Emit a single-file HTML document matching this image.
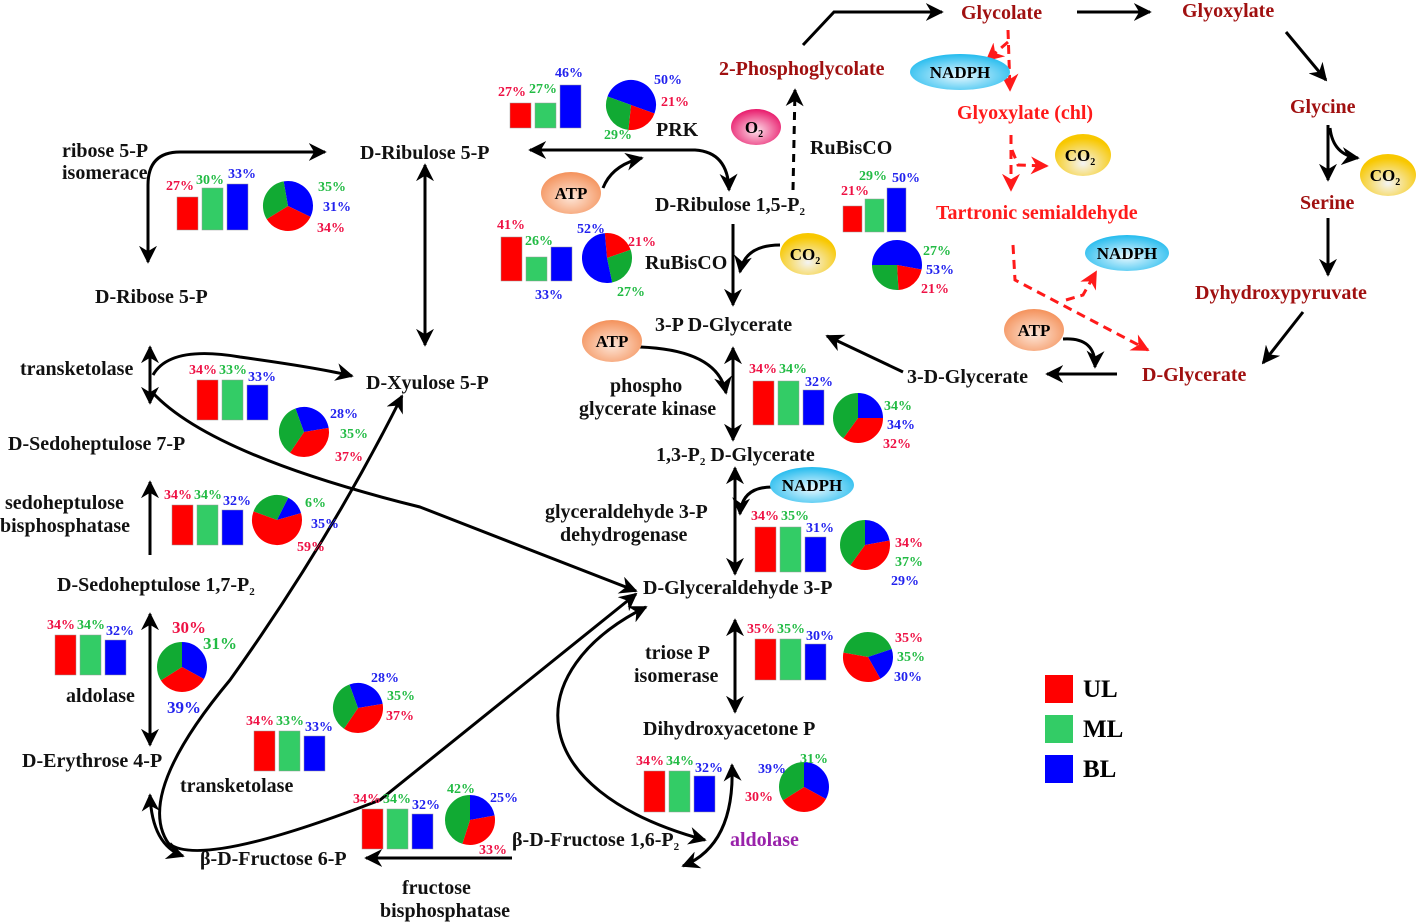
<!DOCTYPE html>
<html><head><meta charset="utf-8"><style>
html,body{margin:0;padding:0;background:#fff;}
svg{display:block;}
text{font-family:"Liberation Serif",serif;font-weight:bold;}
.t{font-size:20px;fill:#111;}
.dr{font-size:20px;fill:#a01010;}
.rd{font-size:20px;fill:#ff1a1a;}
.p{font-size:14px;}
.r{fill:#ee1144;} .g{fill:#22bb44;} .b{fill:#2222ee;}
.ln{fill:none;stroke:#000;stroke-width:3;}
.dl{fill:none;stroke:#ff1a1a;stroke-width:3;stroke-dasharray:9 6;}
</style></head><body>
<svg width="1417" height="923" viewBox="0 0 1417 923" xmlns="http://www.w3.org/2000/svg">
<defs>
<marker id="a" viewBox="0 0 10 10" refX="9" refY="5" markerWidth="6" markerHeight="6" orient="auto-start-reverse"><path d="M0,0 L10,5 L0,10 L3,5z" fill="#000"/></marker>
<marker id="ar" viewBox="0 0 10 10" refX="9" refY="5" markerWidth="6" markerHeight="6" orient="auto-start-reverse"><path d="M0,0 L10,5 L0,10 L3,5z" fill="#ff1a1a"/></marker>
<radialGradient id="cy" cx="50%" cy="60%" r="60%"><stop offset="0" stop-color="#e8f8ff"/><stop offset="1" stop-color="#22bbee"/></radialGradient>
<radialGradient id="or" cx="50%" cy="60%" r="60%"><stop offset="0" stop-color="#fde6d8"/><stop offset="1" stop-color="#f4915a"/></radialGradient>
<radialGradient id="ye" cx="50%" cy="70%" r="60%"><stop offset="0" stop-color="#f4f4f4"/><stop offset="1" stop-color="#f8c800"/></radialGradient>
<radialGradient id="pk" cx="50%" cy="60%" r="60%"><stop offset="0" stop-color="#fde0ea"/><stop offset="1" stop-color="#e8186a"/></radialGradient>
</defs>

<!-- connectors -->
<path class="ln" d="M148,262 L148,185 Q148,152 180,152 L325,152" marker-start="url(#a)" marker-end="url(#a)"/>
<path class="ln" d="M425,165 L425,345" marker-start="url(#a)" marker-end="url(#a)"/>
<path class="ln" d="M530,150 L695,150 Q728,152 729,190" marker-start="url(#a)" marker-end="url(#a)"/>
<path class="ln" stroke-width="2" d="M603,188 Q612,165 642,158" marker-end="url(#a)"/>
<path class="ln" d="M733,224 L733,305" marker-end="url(#a)"/>
<path class="ln" stroke-width="2" d="M780,245 Q745,245 740,272" marker-end="url(#a)"/>
<path class="ln" stroke-dasharray="8 6" d="M793,190 L795,90" marker-end="url(#a)"/>
<path class="ln" d="M803,45 L834,12 L942,12" marker-end="url(#a)"/>
<path class="ln" d="M1077,12 L1150,12" marker-end="url(#a)"/>
<path class="ln" d="M1286,32 L1326,80" marker-end="url(#a)"/>
<path class="ln" d="M1328,125 L1328,180" marker-end="url(#a)"/>
<path class="ln" stroke-width="2" d="M1330,128 Q1333,155 1358,158" marker-end="url(#a)"/>
<path class="ln" d="M1328,218 L1328,275" marker-end="url(#a)"/>
<path class="ln" d="M1303,312 L1263,363" marker-end="url(#a)"/>
<path class="ln" d="M1117,374 L1047,374" marker-end="url(#a)"/>
<path class="ln" stroke-width="2" d="M1063,339 Q1096,337 1095,367" marker-end="url(#a)"/>
<path class="ln" d="M903,372 L827,336" marker-end="url(#a)"/>
<path class="dl" d="M1008,30 L1010,90" marker-end="url(#ar)"/>
<path class="dl" d="M1008,42 L987,60" marker-end="url(#ar)"/>
<path class="dl" d="M1011,135 L1011,190" marker-end="url(#ar)"/>
<path class="dl" d="M1012,150 L1018,165 L1047,166" marker-end="url(#ar)"/>
<path class="dl" d="M1013,245 L1015,280 L1148,350" marker-end="url(#ar)"/>
<path class="dl" d="M1066,300 L1083,295 L1096,272" marker-end="url(#ar)"/>
<path class="ln" d="M733,348 L733,440" marker-start="url(#a)" marker-end="url(#a)"/>
<path class="ln" stroke-width="2" d="M640,347 Q718,350 726,393" marker-end="url(#a)"/>
<path class="ln" d="M735,468 L735,574" marker-start="url(#a)" marker-end="url(#a)"/>
<path class="ln" stroke-width="2" d="M772,487 Q742,487 740,514" marker-end="url(#a)"/>
<path class="ln" d="M735,620 L735,712" marker-start="url(#a)" marker-end="url(#a)"/>
<path class="ln" stroke-width="2.5" d="M732,765 Q735,845 683,866" marker-start="url(#a)" marker-end="url(#a)"/>
<path class="ln" stroke-width="2.5" d="M705,840 C520,790 520,670 646,607" marker-start="url(#a)" marker-end="url(#a)"/>
<path class="ln" d="M150,347 L150,403" marker-start="url(#a)" marker-end="url(#a)"/>
<path class="ln" stroke-width="2.5" d="M153,375 Q170,345 240,357 Q320,368 352,376" marker-end="url(#a)"/>
<path class="ln" stroke-width="2.5" d="M152,392 Q210,455 420,507 L636,591" marker-end="url(#a)"/>
<path class="ln" stroke-width="2.5" d="M172,848 Q130,800 230,680 Q330,540 402,396" marker-end="url(#a)"/>
<path class="ln" stroke-width="2.5" d="M168,843 Q200,870 380,800 L636,594" marker-end="url(#a)"/>
<path class="ln" d="M512,858 L366,858" marker-end="url(#a)"/>
<path class="ln" stroke-width="2.5" d="M150,795 Q152,845 183,856" marker-start="url(#a)" marker-end="url(#a)"/>
<path class="ln" d="M150,555 L150,482" marker-end="url(#a)"/>
<path class="ln" d="M150,614 L150,745" marker-start="url(#a)" marker-end="url(#a)"/>

<!-- ovals -->
<ellipse cx="960" cy="72" rx="50" ry="18" fill="url(#cy)"/><text x="960" y="78" text-anchor="middle" style="font-size:17px">NADPH</text>
<ellipse cx="1127" cy="253" rx="42" ry="18" fill="url(#cy)"/><text x="1127" y="259" text-anchor="middle" style="font-size:17px">NADPH</text>
<ellipse cx="812" cy="485" rx="42" ry="18" fill="url(#cy)"/><text x="812" y="491" text-anchor="middle" style="font-size:17px">NADPH</text>
<ellipse cx="571" cy="193" rx="30" ry="21" fill="url(#or)"/><text x="571" y="199" text-anchor="middle" style="font-size:17px">ATP</text>
<ellipse cx="612" cy="341" rx="30" ry="21" fill="url(#or)"/><text x="612" y="347" text-anchor="middle" style="font-size:17px">ATP</text>
<ellipse cx="1034" cy="330" rx="30" ry="21" fill="url(#or)"/><text x="1034" y="336" text-anchor="middle" style="font-size:17px">ATP</text>
<ellipse cx="808" cy="254" rx="28" ry="21" fill="url(#ye)"/><text x="805" y="260" text-anchor="middle" style="font-size:17px">CO<tspan font-size="10" dy="4">2</tspan></text>
<ellipse cx="1083" cy="155" rx="28" ry="21" fill="url(#ye)"/><text x="1080" y="161" text-anchor="middle" style="font-size:17px">CO<tspan font-size="10" dy="4">2</tspan></text>
<ellipse cx="1388" cy="175" rx="28" ry="21" fill="url(#ye)"/><text x="1385" y="181" text-anchor="middle" style="font-size:17px">CO<tspan font-size="10" dy="4">2</tspan></text>
<ellipse cx="756" cy="127" rx="25" ry="18" fill="url(#pk)"/><text x="754" y="133" text-anchor="middle" style="font-size:17px">O<tspan font-size="10" dy="4">2</tspan></text>

<!-- labels -->
<text class="t" x="360" y="159">D-Ribulose 5-P</text>
<text class="t" x="62" y="157">ribose 5-P</text><text class="t" x="62" y="179">isomerace</text>
<text class="t" x="95" y="303">D-Ribose 5-P</text>
<text class="t" x="20" y="375">transketolase</text>
<text class="t" x="366" y="389">D-Xyulose 5-P</text>
<text class="t" x="8" y="450">D-Sedoheptulose 7-P</text>
<text class="t" x="5" y="509">sedoheptulose</text><text class="t" x="0" y="532">bisphosphatase</text>
<text class="t" x="57" y="591">D-Sedoheptulose 1,7-P<tspan font-size="11" dy="4">2</tspan></text>
<text class="t" x="66" y="702">aldolase</text>
<text class="t" x="22" y="767">D-Erythrose 4-P</text>
<text class="t" x="180" y="792">transketolase</text>
<text class="t" x="200" y="865">β-D-Fructose 6-P</text>
<text class="t" x="402" y="894">fructose</text><text class="t" x="380" y="917">bisphosphatase</text>
<text class="t" x="512" y="846">β-D-Fructose 1,6-P<tspan font-size="11" dy="4">2</tspan></text>
<text x="730" y="846" style="font-size:20px;fill:#9922aa">aldolase</text>
<text class="t" x="643" y="735">Dihydroxyacetone P</text>
<text class="t" x="645" y="659">triose P</text><text class="t" x="634" y="682">isomerase</text>
<text class="t" x="643" y="594">D-Glyceraldehyde 3-P</text>
<text class="t" x="545" y="518">glyceraldehyde 3-P</text><text class="t" x="560" y="541">dehydrogenase</text>
<text class="t" x="656" y="461">1,3-P<tspan font-size="11" dy="4">2</tspan><tspan dy="-4"> D-Glycerate</tspan></text>
<text class="t" x="610" y="392">phospho</text><text class="t" x="579" y="415">glycerate kinase</text>
<text class="t" x="655" y="331">3-P D-Glycerate</text>
<text class="t" x="907" y="383">3-D-Glycerate</text>
<text class="dr" x="1142" y="381">D-Glycerate</text>
<text class="t" x="655" y="211">D-Ribulose 1,5-P<tspan font-size="11" dy="4">2</tspan></text>
<text class="t" x="645" y="269">RuBisCO</text>
<text class="t" x="810" y="154">RuBisCO</text>
<text class="t" x="656" y="136">PRK</text>
<text class="dr" x="719" y="75">2-Phosphoglycolate</text>
<text class="dr" x="961" y="19">Glycolate</text>
<text class="dr" x="1182" y="17">Glyoxylate</text>
<text class="dr" x="1290" y="113">Glycine</text>
<text class="dr" x="1300" y="209">Serine</text>
<text class="dr" x="1195" y="299">Dyhydroxypyruvate</text>
<text class="rd" x="957" y="119">Glyoxylate (chl)</text>
<text class="rd" x="936" y="219">Tartronic semialdehyde</text>

<!-- bar charts -->
<g stroke="#999" stroke-width="0.5">
<rect x="177" y="197" width="21" height="33" fill="#f00"/><rect x="202" y="188" width="21" height="42" fill="#33cc66"/><rect x="227" y="184" width="21" height="46" fill="#00f"/>
<rect x="510" y="103" width="21" height="25" fill="#f00"/><rect x="535" y="103" width="21" height="25" fill="#33cc66"/><rect x="560" y="85" width="21" height="43" fill="#00f"/>
<rect x="501" y="237" width="21" height="44" fill="#f00"/><rect x="526" y="257" width="21" height="24" fill="#33cc66"/><rect x="551" y="247" width="21" height="34" fill="#00f"/>
<rect x="843" y="206" width="19" height="26" fill="#f00"/><rect x="865" y="199" width="19" height="33" fill="#33cc66"/><rect x="887" y="188" width="19" height="44" fill="#00f"/>
<rect x="197" y="380" width="21" height="40" fill="#f00"/><rect x="222" y="380" width="21" height="40" fill="#33cc66"/><rect x="247" y="385" width="21" height="35" fill="#00f"/>
<rect x="172" y="505" width="21" height="40" fill="#f00"/><rect x="197" y="505" width="21" height="40" fill="#33cc66"/><rect x="222" y="510" width="21" height="35" fill="#00f"/>
<rect x="55" y="635" width="21" height="40" fill="#f00"/><rect x="80" y="635" width="21" height="40" fill="#33cc66"/><rect x="105" y="640" width="21" height="35" fill="#00f"/>
<rect x="254" y="731" width="21" height="40" fill="#f00"/><rect x="279" y="731" width="21" height="40" fill="#33cc66"/><rect x="304" y="736" width="21" height="35" fill="#00f"/>
<rect x="362" y="809" width="21" height="40" fill="#f00"/><rect x="387" y="809" width="21" height="40" fill="#33cc66"/><rect x="412" y="814" width="21" height="35" fill="#00f"/>
<rect x="753" y="381" width="21" height="44" fill="#f00"/><rect x="778" y="381" width="21" height="44" fill="#33cc66"/><rect x="803" y="390" width="21" height="35" fill="#00f"/>
<rect x="755" y="527" width="21" height="45" fill="#f00"/><rect x="780" y="527" width="21" height="45" fill="#33cc66"/><rect x="805" y="537" width="21" height="35" fill="#00f"/>
<rect x="755" y="639" width="21" height="41" fill="#f00"/><rect x="780" y="639" width="21" height="41" fill="#33cc66"/><rect x="805" y="644" width="21" height="36" fill="#00f"/>
<rect x="644" y="771" width="21" height="41" fill="#f00"/><rect x="669" y="771" width="21" height="41" fill="#33cc66"/><rect x="694" y="776" width="21" height="36" fill="#00f"/>
</g>
<g class="p">
<text class="r" x="166" y="190">27%</text><text class="g" x="196" y="184">30%</text><text class="b" x="228" y="178">33%</text>
<text class="r" x="498" y="96">27%</text><text class="g" x="529" y="93">27%</text><text class="b" x="555" y="77">46%</text>
<text class="r" x="497" y="229">41%</text><text class="g" x="525" y="245">26%</text><text class="b" x="535" y="299">33%</text>
<text class="r" x="841" y="195">21%</text><text class="g" x="859" y="180">29%</text><text class="b" x="892" y="182">50%</text>
<text class="r" x="189" y="374">34%</text><text class="g" x="219" y="374">33%</text><text class="b" x="248" y="381">33%</text>
<text class="r" x="164" y="499">34%</text><text class="g" x="194" y="499">34%</text><text class="b" x="223" y="505">32%</text>
<text class="r" x="47" y="629">34%</text><text class="g" x="77" y="629">34%</text><text class="b" x="106" y="635">32%</text>
<text class="r" x="246" y="725">34%</text><text class="g" x="276" y="725">33%</text><text class="b" x="305" y="731">33%</text>
<text class="r" x="353" y="803">34%</text><text class="g" x="383" y="803">34%</text><text class="b" x="412" y="809">32%</text>
<text class="r" x="749" y="373">34%</text><text class="g" x="779" y="373">34%</text><text class="b" x="805" y="386">32%</text>
<text class="r" x="751" y="520">34%</text><text class="g" x="781" y="520">35%</text><text class="b" x="806" y="532">31%</text>
<text class="r" x="747" y="633">35%</text><text class="g" x="777" y="633">35%</text><text class="b" x="806" y="640">30%</text>
<text class="r" x="636" y="765">34%</text><text class="g" x="666" y="765">34%</text><text class="b" x="695" y="772">32%</text>
</g>

<!-- pies -->
<g fill="none" stroke-width="25">
<g transform="translate(288,206) rotate(-100)"><circle r="12.5" pathLength="100" stroke="#00f" stroke-dasharray="35 100"/><circle r="12.5" pathLength="100" stroke="#f00" stroke-dasharray="34 100" stroke-dashoffset="-35"/><circle r="12.5" pathLength="100" stroke="#11aa33" stroke-dasharray="31 100" stroke-dashoffset="-69"/></g>
<g transform="translate(631,105) rotate(-160)"><circle r="12.5" pathLength="100" stroke="#00f" stroke-dasharray="50 100"/><circle r="12.5" pathLength="100" stroke="#f00" stroke-dasharray="21 100" stroke-dashoffset="-50"/><circle r="12.5" pathLength="100" stroke="#11aa33" stroke-dasharray="29 100" stroke-dashoffset="-71"/></g>
<g transform="translate(607,258) rotate(-95)"><circle r="12.5" pathLength="100" stroke="#f00" stroke-dasharray="21 100"/><circle r="12.5" pathLength="100" stroke="#11aa33" stroke-dasharray="27 100" stroke-dashoffset="-21"/><circle r="12.5" pathLength="100" stroke="#00f" stroke-dasharray="52 100" stroke-dashoffset="-48"/></g>
<g transform="translate(897,265) rotate(180)"><circle r="12.5" pathLength="100" stroke="#00f" stroke-dasharray="53 100"/><circle r="12.5" pathLength="100" stroke="#f00" stroke-dasharray="21 100" stroke-dashoffset="-53"/><circle r="12.5" pathLength="100" stroke="#11aa33" stroke-dasharray="26 100" stroke-dashoffset="-74"/></g>
<g transform="translate(304,432) rotate(-110)"><circle r="12.5" pathLength="100" stroke="#00f" stroke-dasharray="28 100"/><circle r="12.5" pathLength="100" stroke="#f00" stroke-dasharray="37 100" stroke-dashoffset="-28"/><circle r="12.5" pathLength="100" stroke="#11aa33" stroke-dasharray="35 100" stroke-dashoffset="-65"/></g>
<g transform="translate(277,520) rotate(-160)"><circle r="12.5" pathLength="100" stroke="#11aa33" stroke-dasharray="27 100"/><circle r="12.5" pathLength="100" stroke="#00f" stroke-dasharray="13 100" stroke-dashoffset="-27"/><circle r="12.5" pathLength="100" stroke="#f00" stroke-dasharray="60 100" stroke-dashoffset="-40"/></g>
<g transform="translate(182,667) rotate(-90)"><circle r="12.5" pathLength="100" stroke="#00f" stroke-dasharray="33 100"/><circle r="12.5" pathLength="100" stroke="#f00" stroke-dasharray="33 100" stroke-dashoffset="-33"/><circle r="12.5" pathLength="100" stroke="#11aa33" stroke-dasharray="34 100" stroke-dashoffset="-66"/></g>
<g transform="translate(358,708) rotate(-110)"><circle r="12.5" pathLength="100" stroke="#00f" stroke-dasharray="28 100"/><circle r="12.5" pathLength="100" stroke="#f00" stroke-dasharray="37 100" stroke-dashoffset="-28"/><circle r="12.5" pathLength="100" stroke="#11aa33" stroke-dasharray="35 100" stroke-dashoffset="-65"/></g>
<g transform="translate(470,820) rotate(-90)"><circle r="12.5" pathLength="100" stroke="#00f" stroke-dasharray="22 100"/><circle r="12.5" pathLength="100" stroke="#f00" stroke-dasharray="33 100" stroke-dashoffset="-22"/><circle r="12.5" pathLength="100" stroke="#11aa33" stroke-dasharray="45 100" stroke-dashoffset="-55"/></g>
<g transform="translate(858,418) rotate(-90)"><circle r="12.5" pathLength="100" stroke="#00f" stroke-dasharray="25 100"/><circle r="12.5" pathLength="100" stroke="#f00" stroke-dasharray="35 100" stroke-dashoffset="-25"/><circle r="12.5" pathLength="100" stroke="#11aa33" stroke-dasharray="40 100" stroke-dashoffset="-60"/></g>
<g transform="translate(865,545) rotate(-90)"><circle r="12.5" pathLength="100" stroke="#00f" stroke-dasharray="22 100"/><circle r="12.5" pathLength="100" stroke="#f00" stroke-dasharray="38 100" stroke-dashoffset="-22"/><circle r="12.5" pathLength="100" stroke="#11aa33" stroke-dasharray="40 100" stroke-dashoffset="-60"/></g>
<g transform="translate(868,657) rotate(-170)"><circle r="12.5" pathLength="100" stroke="#11aa33" stroke-dasharray="42 100"/><circle r="12.5" pathLength="100" stroke="#00f" stroke-dasharray="22 100" stroke-dashoffset="-42"/><circle r="12.5" pathLength="100" stroke="#f00" stroke-dasharray="36 100" stroke-dashoffset="-64"/></g>
<g transform="translate(804,787) rotate(-90)"><circle r="12.5" pathLength="100" stroke="#00f" stroke-dasharray="33 100"/><circle r="12.5" pathLength="100" stroke="#f00" stroke-dasharray="33 100" stroke-dashoffset="-33"/><circle r="12.5" pathLength="100" stroke="#11aa33" stroke-dasharray="34 100" stroke-dashoffset="-66"/></g>
</g>
<g class="p">
<text class="g" x="318" y="191">35%</text><text class="b" x="323" y="211">31%</text><text class="r" x="317" y="232">34%</text>
<text class="b" x="654" y="84">50%</text><text class="r" x="661" y="106">21%</text><text class="g" x="604" y="139">29%</text>
<text class="b" x="577" y="233">52%</text><text class="r" x="628" y="246">21%</text><text class="g" x="617" y="296">27%</text>
<text class="g" x="923" y="255">27%</text><text class="b" x="926" y="274">53%</text><text class="r" x="921" y="293">21%</text>
<text class="b" x="330" y="418">28%</text><text class="g" x="340" y="438">35%</text><text class="r" x="335" y="461">37%</text>
<text class="g" x="305" y="507">6%</text><text class="b" x="311" y="528">35%</text><text class="r" x="297" y="551">59%</text>
<text class="r" x="172" y="633" style="font-size:17px">30%</text><text class="g" x="203" y="649" style="font-size:17px">31%</text><text class="b" x="167" y="713" style="font-size:17px">39%</text>
<text class="b" x="371" y="682">28%</text><text class="g" x="387" y="700">35%</text><text class="r" x="386" y="720">37%</text>
<text class="g" x="447" y="793">42%</text><text class="b" x="490" y="802">25%</text><text class="r" x="479" y="854">33%</text>
<text class="g" x="884" y="410">34%</text><text class="b" x="887" y="429">34%</text><text class="r" x="883" y="448">32%</text>
<text class="r" x="895" y="547">34%</text><text class="g" x="895" y="566">37%</text><text class="b" x="891" y="585">29%</text>
<text class="r" x="895" y="642">35%</text><text class="g" x="897" y="661">35%</text><text class="b" x="894" y="681">30%</text>
<text class="b" x="758" y="773">39%</text><text class="g" x="800" y="763">31%</text><text class="r" x="745" y="801">30%</text>
</g>

<!-- legend -->
<rect x="1045" y="675" width="28" height="28" fill="#f00"/><text x="1083" y="697" style="font-size:25px">UL</text>
<rect x="1045" y="715" width="28" height="28" fill="#33cc66"/><text x="1083" y="737" style="font-size:25px">ML</text>
<rect x="1045" y="755" width="28" height="28" fill="#00f"/><text x="1083" y="777" style="font-size:25px">BL</text>
</svg>
</body></html>
